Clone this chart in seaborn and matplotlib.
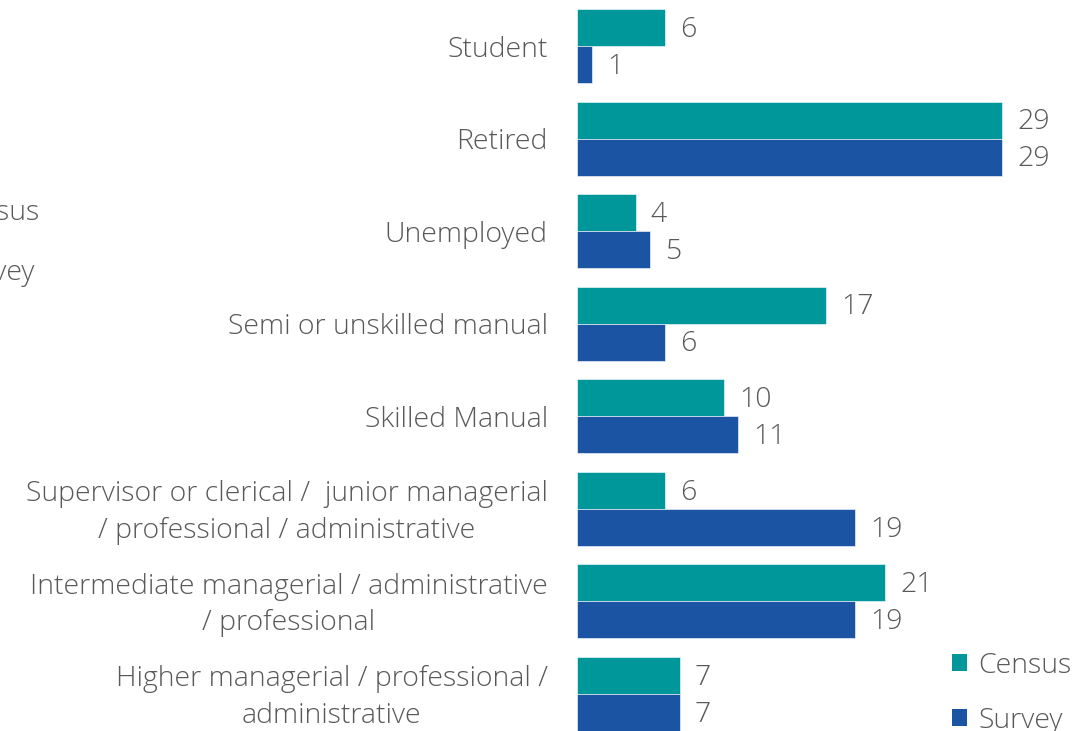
import matplotlib
matplotlib.use("Agg")
import matplotlib.pyplot as plt
import matplotlib.transforms as mtransforms
import seaborn as sns
import pandas as pd
from matplotlib.patches import Patch

categories = [
    "Student",
    "Retired",
    "Unemployed",
    "Semi or unskilled manual",
    "Skilled Manual",
    "Supervisor or clerical /  junior managerial\n/ professional / administrative",
    "Intermediate managerial / administrative\n/ professional",
    "Higher managerial / professional /\nadministrative",
]
census = [6, 29, 4, 17, 10, 6, 21, 7]
survey = [1, 29, 5, 6, 11, 19, 19, 7]
series = ["Census", "Survey"]
colors = ["#00979A", "#1A54A2"]

df = pd.DataFrame({
    "category": categories * 2,
    "value": census + survey,
    "series": [series[0]] * len(categories) + [series[1]] * len(categories),
})

sns.set_theme(style="white")
plt.rcParams["font.family"] = ["Open Sans", "DejaVu Sans"]
text_color = "#595959"
fs = 20.5

fig = plt.figure(figsize=(10.92, 7.31), dpi=100)
ax = fig.add_axes([577 / 1092, 0, 1 - 577 / 1092, 1])

sns.barplot(data=df, y="category", x="value", hue="series", order=categories,
            hue_order=series, palette=colors, orient="h", width=0.8,
            edgecolor="white", linewidth=0.4, legend=False, ax=ax, saturation=1)

for cont in ax.containers:
    anns = ax.bar_label(cont, padding=11, fontsize=fs, color=text_color, fontweight="light")
    for a in anns:
        a.xyann = (11, -1.5)

ax.set_xlim(0, (1092 - 577) / (425 / 29))
ax.set_ylim(7.4, -0.5)
ax.set_xlabel("")
ax.set_ylabel("")
ax.set_xticks([])
for s in ax.spines.values():
    s.set_visible(False)
ax.tick_params(axis="y", length=0, pad=21, labelsize=fs, labelcolor=text_color)
up = mtransforms.ScaledTranslation(0, 4 / 100, fig.dpi_scale_trans)
for lab in ax.get_yticklabels():
    lab.set_multialignment("center")
    lab.set_linespacing(1.4)
    lab.set_fontweight("light")
for tick in ax.yaxis.get_major_ticks():
    if "\n" in tick.label1.get_text():
        tick.label1.set_transform(tick.label1.get_transform() + up)

handles = [Patch(facecolor=c, edgecolor="none") for c in colors]
fig.legend(handles, series, loc="upper left", bbox_to_anchor=(926 / 1092, 1 - 626 / 731),
           frameon=False, fontsize=fs, labelcolor=text_color, handlelength=0.55,
           handleheight=0.55, handletextpad=0.4, labelspacing=0.95,
           prop={"weight": "light", "size": fs})

# partially visible legend of a neighbouring chart, cut off at the left edge
fig.text(40 / 1092, 1 - 213 / 731, "Census", ha="right", va="center", fontsize=fs,
         color=text_color, fontweight="light")
fig.text(35 / 1092, 1 - 273 / 731, "Survey", ha="right", va="center", fontsize=fs,
         color=text_color, fontweight="light")

fig.savefig("out.png", dpi=100)
